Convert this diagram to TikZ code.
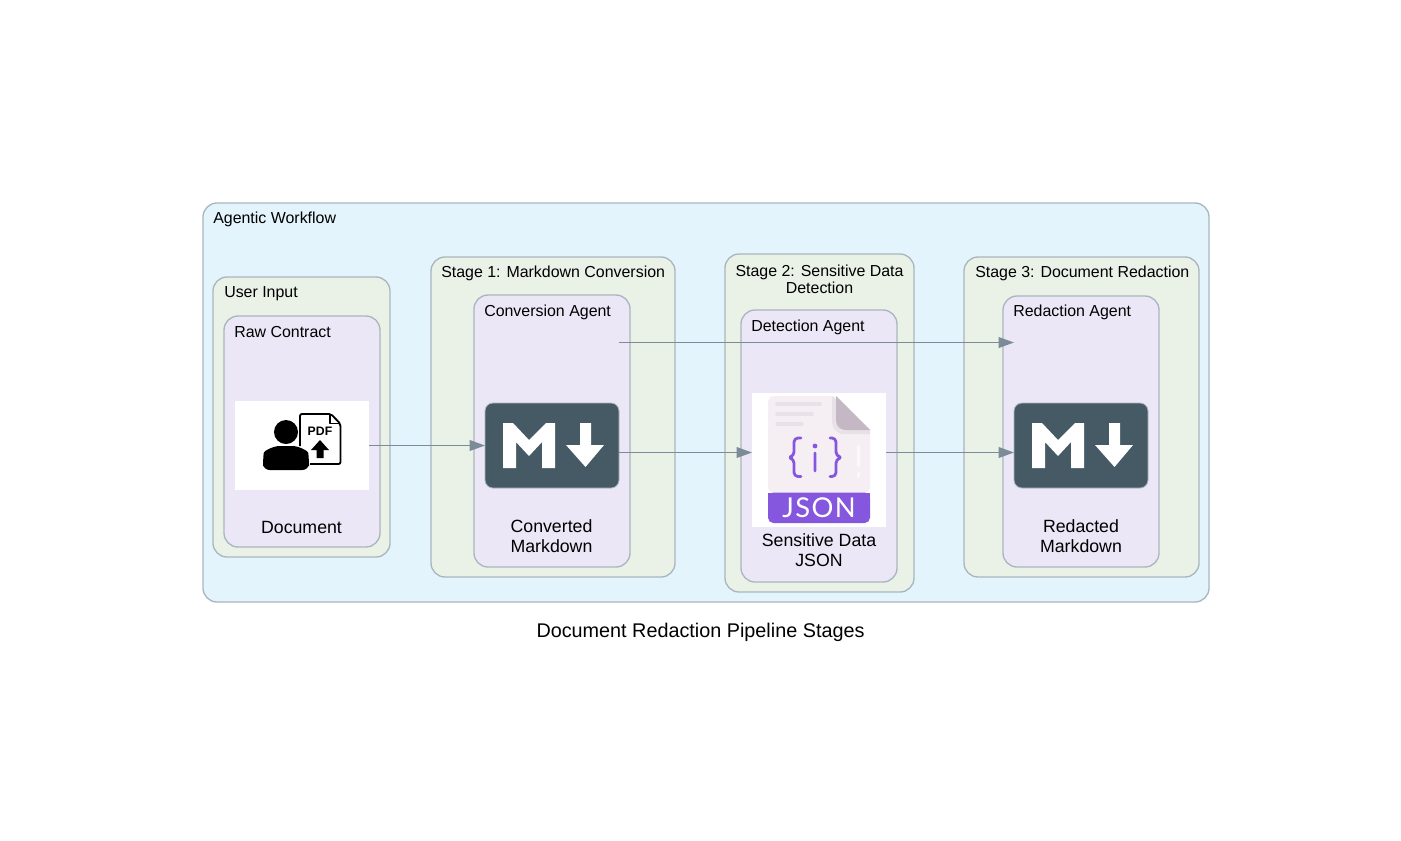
\documentclass[tikz,border=0pt]{standalone}
\usepackage{fontspec}
\setmainfont{Liberation Sans}
\newfontfamily\jsonfont[LetterSpace=5]{Lato}
\usetikzlibrary{arrows.meta}
\definecolor{edgegray}{HTML}{AAB6BE}
\definecolor{flowgray}{HTML}{7C8B98}
\definecolor{workblue}{HTML}{E3F4FC}
\definecolor{stagegreen}{HTML}{EAF2E8}
\definecolor{agentpurple}{HTML}{ECE7F6}
\definecolor{mdslate}{HTML}{455A64}
\definecolor{jsonpurple}{HTML}{8557DE}
\definecolor{jsonpage}{HTML}{F5EFF4}
\definecolor{jsonline}{HTML}{E8E1E7}
\definecolor{jsonfold}{HTML}{C3B8C4}
\tikzset{
	panel/.style n args={3}{draw=edgegray,line width=1pt,fill=#1,rounded corners=10.5pt,
		anchor=north west,inner sep=0pt,outer sep=0pt,minimum width=#2*.75pt,minimum height=#3*.75pt},
	panellabel/.style={anchor=west,inner sep=0pt,font=\fontsize{11.95}{12.8}\selectfont},
	leaflabel/.style={align=center,inner sep=0pt,font=\fontsize{13.3}{15}\selectfont},
	flow/.style={->,draw=flowgray,line width=1.1pt},
	imagebox/.style 2 args={fill=white,anchor=north west,inner sep=0pt,outer sep=0pt,
		minimum width=#1*.75pt,minimum height=#2*.75pt},
	mdbox/.style={draw=edgegray,line width=.6pt,fill=mdslate,rounded corners=6pt,anchor=north west,
		inner sep=0pt,outer sep=0pt,minimum width=134*.75pt,minimum height=85*.75pt},
	mdglyph/.pic={
		\fill[white]
		(18,65)--(18,20)--(28,20)--(44,37)--(61,20)--(70,20)--(70,65)--(57,65)--(57,39)--(44,53)--(31,39)--(31,65)--cycle
		(95,20)--(106,20)--(106,42)--(119,42)--(100.5,64)--(81,42)--(95,42)--cycle
		;
	}
}
\begin{document}
\begin{tikzpicture}[x=.75pt,y=-.75pt,>={Triangle[length=11.5pt,width=8pt]},line join=round]
	\useasboundingbox (0,0) rectangle (1401,840);
	% clusters
	\node[panel={workblue}{1006}{399}] (workflow) at (203,203) {};
	\node[panel={stagegreen}{177}{280}] (userinput) at (213,277) {};
	\node[panel={agentpurple}{156}{231}] (rawcontract) at (224,316) {};
	\node[panel={stagegreen}{244}{320}] (stageone) at (431,257) {};
	\node[panel={agentpurple}{156}{272}] (convagent) at (474,295) {};
	\node[panel={stagegreen}{189}{338}] (stagetwo) at (725,254) {};
	\node[panel={agentpurple}{156}{272}] (detectagent) at (741,310) {};
	\node[panel={stagegreen}{235}{320}] (stagethree) at (964,257) {};
	\node[panel={agentpurple}{156}{271}] (redactagent) at (1003,296) {};
	% cluster titles
	\node[panellabel] (workflowlabel) at (213,219.5) {Agentic Workflow};
	\node[panellabel] (userlabel) at (224,293.5) {User Input};
	\node[panellabel] (rawlabel) at (234,332) {Raw Contract};
	\node[panellabel] (stageonelabel) at (441,273.5) {Stage 1: Markdown Conversion};
	\node[panellabel] (convlabel) at (484,312.5) {Conversion Agent};
	\node[panellabel,anchor=center,align=center] (stagetwolabel) at (819.5,279) {Stage 2: Sensitive Data\\Detection};
	\node[panellabel] (detectlabel) at (751,327.5) {Detection Agent};
	\node[panellabel] (stagethreelabel) at (975,273.5) {Stage 3: Document Redaction};
	\node[panellabel] (redactlabel) at (1013,312.5) {Redaction Agent};
	% leaf boxes
	\node[imagebox={134}{89}] (pdfdoc) at (235,401) {};
	\node[mdbox] (mdone) at (485,403) {};
	\node[imagebox={134}{134}] (jsondoc) at (752,393) {};
	\node[mdbox] (mdtwo) at (1014,403) {};
	\path (mdone.north west) pic {mdglyph};
	\path (mdtwo.north west) pic {mdglyph};
	% person with pdf
	\fill[black] (286,432) circle (12);
	\fill[black,rounded corners=5pt] (263,470)--(263,460) .. controls (264,450) and (275,446) .. (286,446) .. controls (297,446) and (308,450) .. (309,460)--(309,470)--cycle;
	\draw[black,line width=1.4pt,rounded corners=1.5pt] (300,446)--(300,414)--(331,414)--(340.5,424)--(340.5,464)--(310,464);
	\draw[black,line width=1pt] (330,414.5)--(330,423.5)--(340,423.5);
	\node[inner sep=0pt,font=\fontsize{9.2}{10}\selectfont\bfseries] (pdftext) at (320,431) {PDF};
	\fill[black] (320,440)--(329,450)--(323.5,450)--(323.5,458)--(316.5,458)--(316.5,450)--(311,450)--cycle;
	% json sheet
	\fill[jsonpage,rounded corners=4pt] (768,493)--(768,396)--(836,396)--(870,430)--(870,493)--cycle;
	\fill[jsonline] (832,396)--(870,430)--(870,434)--(844,434) .. controls (836,434) and (832,428) .. (832,420)--cycle;
	\fill[jsonfold] (836,396)--(870,430)--(846,430) .. controls (840,430) and (836,426) .. (836,420)--cycle;
	\draw[jsonline,line width=2.7pt,line cap=round]
	(777,404)--(820,404)
	(777,414)--(812,414)
	(777,424)--(802,424)
	;
	\draw[white,opacity=.6,line width=2pt,line cap=round]
	(858.5,446)--(858.5,466)
	(858.5,473)--(858.5,477)
	;
	\draw[jsonpurple,line width=2.1pt,line cap=round,rounded corners=3pt]
	(801,438)--(794,438)--(794,456)--(788,457.5)--(794,459)--(794,476.5)--(801,476.5)
	(830,438)--(836,438)--(836,456)--(842.5,457.5)--(836,459)--(836,476.5)--(830,476.5)
	(815,453)--(815,471)
	;
	\fill[jsonpurple] (815,446) circle (2.4);
	\fill[jsonpurple,rounded corners=4pt] (768,492.5) -- (870,492.5) -- (870,523) -- (768,523) -- cycle;
	\fill[jsonpurple] (768,492.5) rectangle (870,503);
	\node[inner sep=0pt,text=white,font=\fontsize{20.5}{21}\jsonfont] (jsontext) at (819,507.5) {JSON};
	% leaf labels
	\node[leaflabel] (doclabel) at (301.5,527) {Document};
	\node[leaflabel] (convertedlabel) at (551.5,536) {Converted\\Markdown};
	\node[leaflabel] (sensitivelabel) at (819,550) {Sensitive Data\\JSON};
	\node[leaflabel] (redactedlabel) at (1081,536) {Redacted\\Markdown};
	% connectors
	\coordinate (toplane) at (0,342.5);
	\coordinate (midlane) at (0,452.5);
	\draw[flow] (pdfdoc.east) -- (mdone.west);
	\draw[flow] (mdone.east |- midlane) -- (jsondoc.west |- midlane);
	\draw[flow] (jsondoc.east |- midlane) -- (mdtwo.west |- midlane);
	\draw[flow] (mdone.east |- toplane) -- (mdtwo.west |- toplane);
	\node[inner sep=0pt,font=\fontsize{14.85}{16}\selectfont] (pipelinetitle) at (700.5,632.5) {Document Redaction Pipeline Stages};
\end{tikzpicture}
\end{document}
